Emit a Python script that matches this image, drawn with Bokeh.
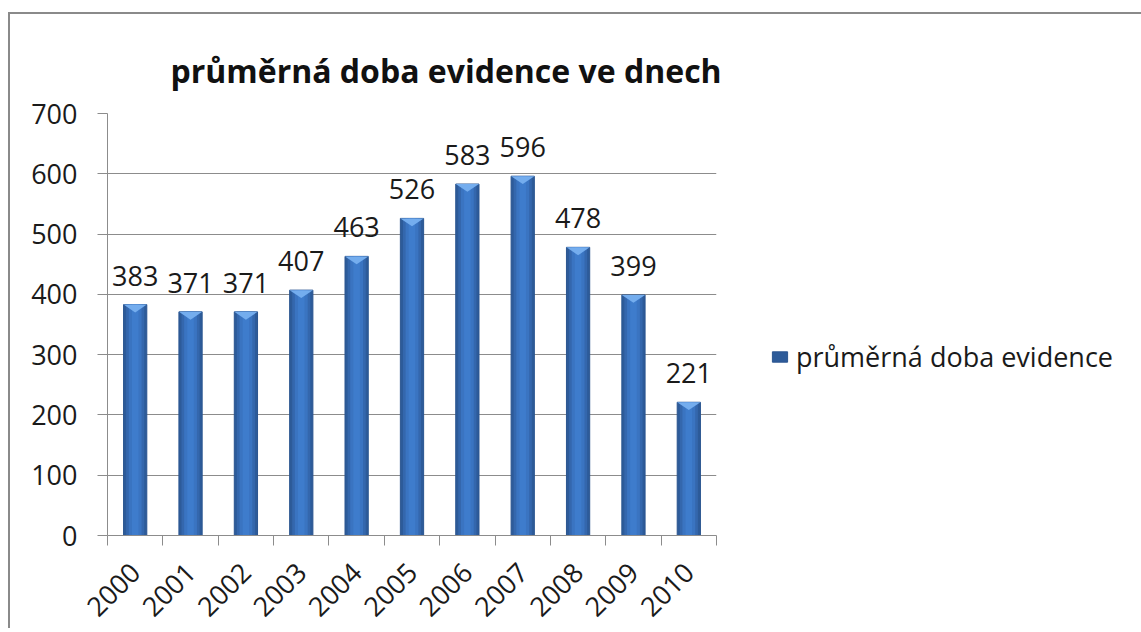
import math
from bokeh.plotting import figure
from bokeh.models import FixedTicker, Legend, LegendItem, ColumnDataSource
from bokeh.embed import file_html
from bokeh.resources import INLINE

years = [2000, 2001, 2002, 2003, 2004, 2005, 2006, 2007, 2008, 2009, 2010]
values = [383, 371, 371, 407, 463, 526, 583, 596, 478, 399, 221]
labels = [str(v) for v in values]
title_text = "průměrná doba evidence ve dnech"
series_name = "průměrná doba evidence"

FONT = "Open Sans"
BAR_W = 0.42

p = figure(frame_width=609, frame_height=422, output_backend="svg", toolbar_location=None,
           x_range=(years[0] - 0.5, years[-1] + 0.5), y_range=(0, 700),
           min_border_left=97, min_border_right=417, min_border_top=99, min_border_bottom=80)
p.styles = {"border-left": "2px solid #8a8a8a", "border-top": "2px solid #8a8a8a",
            "margin-top": "12px", "margin-left": "8px"}
p.outline_line_color = None
p.background_fill_color = "white"
p.border_fill_color = "white"

# title
p.title.text = title_text
p.title.text_font = FONT
p.title.text_font_size = "32px"
p.title.text_font_style = "bold"
p.title.text_color = "#111111"
p.title.align = "left"
p.title.offset = 63
p.title.standoff = 40
p.title.vertical_align = "top"

src = ColumnDataSource(dict(x=years, top=values, label=labels))

# bar with shading layers
main = p.vbar(x="x", top="top", width=BAR_W, bottom=0, source=src,
              fill_color="#2d5b99", line_color="#2a5590", line_width=1)
p.vbar(x="x", top="top", width=BAR_W * 0.78, bottom=0, source=src, fill_color="#3467ad", line_color=None)
p.vbar(x="x", top="top", width=BAR_W * 0.55, bottom=0, source=src, fill_color="#3a74c1", line_color=None)
p.vbar(x="x", top="top", width=BAR_W * 0.28, bottom=0, source=src, fill_color="#3e7ccc", line_color=None)

# top bevel triangles
tri_h = 13
xs = [[x - BAR_W / 2, x + BAR_W / 2, x] for x in years]
ys = [[v, v, v - tri_h] for v in values]
p.patches(xs, ys, fill_color="#74adee", line_color=None)

# value labels
p.text(x="x", y="top", text="label", source=src, text_align="center", text_baseline="bottom",
       y_offset=-19, text_font_size="27px", text_color="#1a1a1a", text_font={"value": FONT})

# axes
grid_c = "#8c8c8c"
p.xgrid.grid_line_color = None
p.ygrid.grid_line_color = grid_c
p.ygrid.grid_line_width = 1
p.ygrid.ticker = FixedTicker(ticks=list(range(0, 701, 100)))

p.yaxis.ticker = FixedTicker(ticks=list(range(0, 701, 100)))
p.yaxis.axis_line_color = grid_c
p.yaxis.major_tick_line_color = grid_c
p.yaxis.major_tick_out = 10
p.yaxis.major_tick_in = 0
p.yaxis.minor_tick_line_color = None
p.yaxis.major_label_text_font = FONT
p.yaxis.major_label_text_font_size = "27px"
p.yaxis.major_label_text_color = "#1a1a1a"
p.yaxis.major_label_standoff = 20

p.xaxis.ticker = FixedTicker(ticks=years, minor_ticks=[y - 0.5 for y in years] + [years[-1] + 0.5])
p.xaxis.axis_line_color = grid_c
p.xaxis.major_tick_line_color = None
p.xaxis.major_tick_out = 0
p.xaxis.major_tick_in = 0
p.xaxis.minor_tick_line_color = grid_c
p.xaxis.minor_tick_out = 10
p.xaxis.minor_tick_in = 0
p.xaxis.major_label_orientation = math.pi / 4
p.xaxis.major_label_text_font = FONT
p.xaxis.major_label_text_font_size = "27px"
p.xaxis.major_label_text_color = "#1a1a1a"
p.xaxis.major_label_standoff = 22

legend = Legend(items=[LegendItem(label=series_name, renderers=[main])],
                location=(54, 160), orientation="vertical")
legend.border_line_color = None
legend.background_fill_alpha = 0
legend.padding = 0
legend.margin = 0
legend.glyph_width = 19
legend.glyph_height = 13
legend.label_standoff = 7
legend.label_text_font = FONT
legend.label_text_font_size = "27px"
legend.label_text_color = "#1a1a1a"
p.add_layout(legend, "right")

open("out.html", "w").write(file_html(p, INLINE))
